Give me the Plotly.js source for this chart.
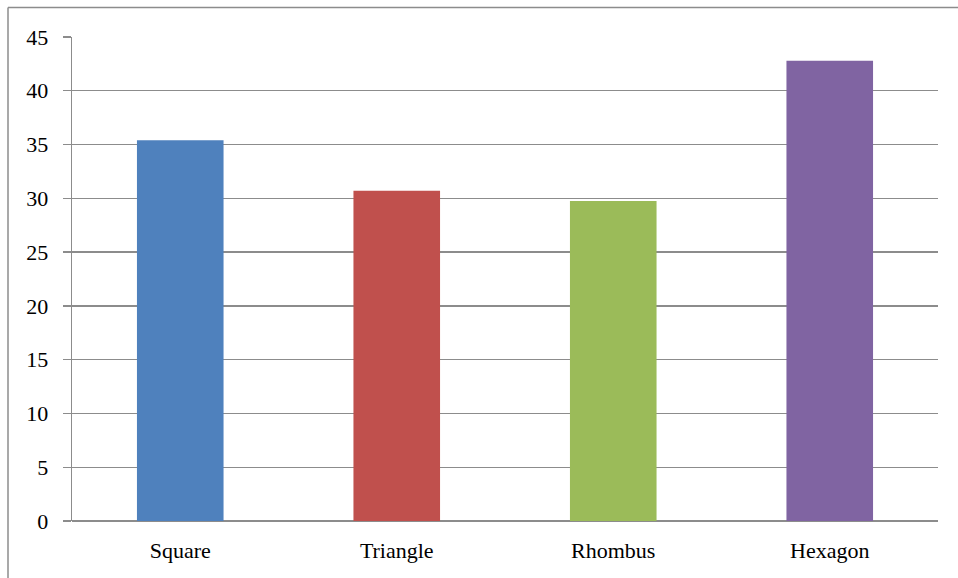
<!DOCTYPE html>
<html>
<head>
<meta charset="utf-8">
<script src="https://cdn.plot.ly/plotly-3.0.1.min.js"></script>
<style>
html,body{margin:0;padding:0;background:#fff;}
#chart{width:958px;height:578px;}
</style>
</head>
<body>
<div id="chart"></div>
<script>
const categories = ["Square", "Triangle", "Rhombus", "Hexagon"];
const values = [35.4, 30.7, 29.75, 42.8];
const colors = ["#4F81BD", "#C0504D", "#9BBB59", "#8064A2"];
const yTicks = [0, 5, 10, 15, 20, 25, 30, 35, 40, 45];

const trace = {
  type: "bar",
  x: categories,
  y: values,
  marker: {color: colors},
  width: 0.4,
  hoverinfo: "x+y"
};

const layout = {
  width: 958,
  height: 578,
  margin: {l: 72, r: 20, t: 37, b: 57},
  paper_bgcolor: "#ffffff",
  plot_bgcolor: "#ffffff",
  showlegend: false,
  font: {family: "Liberation Serif, Times New Roman, serif", size: 21, color: "#000"},
  xaxis: {
    showgrid: false,
    zeroline: false,
    showline: false,
    ticks: "",
    ticklabelstandoff: 14,
    tickfont: {size: 22}
  },
  yaxis: {
    range: [0, 45],
    tickvals: yTicks,
    ticktext: yTicks.map(String),
    showgrid: true,
    gridcolor: "#8c8c8c",
    gridwidth: 1.3,
    zeroline: true,
    zerolinecolor: "#8c8c8c",
    zerolinewidth: 1.3,
    showline: true,
    linecolor: "#8c8c8c",
    linewidth: 1.3,
    ticks: "outside",
    ticklen: 8,
    tickcolor: "#8c8c8c",
    tickwidth: 1.3,
    ticklabelstandoff: 10,
    tickfont: {size: 22}
  },
  shapes: [
    {type: "line", xref: "paper", yref: "paper", x0: (8-72)/866, x1: 1.1, y0: (521-7.5)/484, y1: (521-7.5)/484,
     line: {color: "#8c8c8c", width: 1.5}},
    {type: "line", xref: "paper", yref: "paper", x0: (8-72)/866, x1: (8-72)/866, y0: (521-7.5)/484, y1: -0.2,
     line: {color: "#8c8c8c", width: 1.5}}
  ]
};

Plotly.newPlot("chart", [trace], layout, {displayModeBar: false, staticPlot: true});
</script>
</body>
</html>
